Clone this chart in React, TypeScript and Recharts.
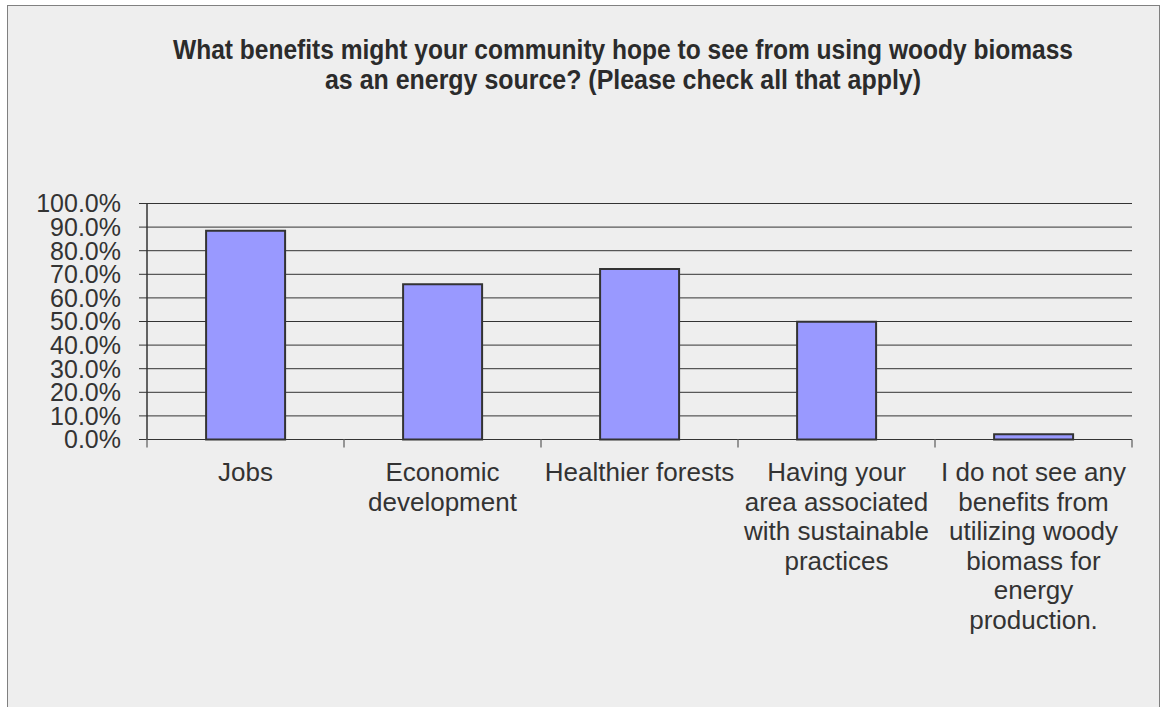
import React from 'react';
import { BarChart, Bar, XAxis, YAxis, CartesianGrid } from 'recharts';

// survey answers, share of respondents (%)
const categories = [
  'Jobs',
  'Economic development',
  'Healthier forests',
  'Having your area associated with sustainable practices',
  'I do not see any benefits from utilizing woody biomass for energy production.',
];
const responses = [88.5, 65.8, 72.2, 49.9, 2.2];
const yTicks = [0, 10, 20, 30, 40, 50, 60, 70, 80, 90, 100];

const titleLines = [
  'What benefits might your community hope to see from using woody biomass',
  'as an energy source? (Please check all that apply)',
];

const data = categories.map((name, i) => ({ name, value: responses[i] }));

const FONT = '"Liberation Sans", Arial, sans-serif';
const INK = '#333333';
const LABEL_SIZE = 26;

let ctx: CanvasRenderingContext2D | null = null;
function measure(s: string) {
  if (!ctx) ctx = document.createElement('canvas').getContext('2d');
  if (!ctx) return s.length * LABEL_SIZE * 0.5;
  ctx.font = `${LABEL_SIZE}px "Liberation Sans", Arial, sans-serif`;
  return ctx.measureText(s).width;
}

// simple greedy word wrap, like the spreadsheet does for axis labels
function wrap(label: string, maxWidth: number) {
  const lines: string[] = [];
  let cur = '';
  label.split(' ').forEach((w) => {
    const next = cur ? cur + ' ' + w : w;
    if (cur && measure(next) > maxWidth) {
      lines.push(cur);
      cur = w;
    } else {
      cur = next;
    }
  });
  if (cur) lines.push(cur);
  return lines;
}

// category label plus the small tick marks that sit between the categories
const CategoryTick = (props: any) => {
  const { x, y, payload, index, visibleTicksCount } = props;
  const half = payload && payload.offset ? payload.offset : 98.5;
  const last = index === visibleTicksCount - 1;
  const lines = wrap(String(payload.value), half * 2 - 3);
  return (
    <g>
      <line x1={x - half} x2={x - half} y1={y} y2={y + 8} stroke="#777" strokeWidth={1.5} />
      {last && <line x1={x + half} x2={x + half} y1={y} y2={y + 8} stroke="#777" strokeWidth={1.5} />}
      <text textAnchor="middle" fill={INK} fontSize={LABEL_SIZE} fontFamily={FONT}>
        {lines.map((l, i) => (
          <tspan key={i} x={x} y={y + 41.5 + i * 29.5}>
            {l}
          </tspan>
        ))}
      </text>
    </g>
  );
};

export default function App() {
  return (
    <div
      style={{
        position: 'absolute',
        left: 7,
        top: 5,
        width: 1153,
        height: 702,
        boxSizing: 'border-box',
        background: '#eeeeee',
        borderLeft: '1px solid #808080',
        borderTop: '1px solid #808080',
        borderRight: '1px solid #808080',
      }}
    >
      <svg width={1151} height={120} style={{ position: 'absolute', left: 0, top: 0 }}>
        <text
          x={615}
          y={53}
          textAnchor="middle"
          fontFamily={FONT}
          fontWeight={700}
          fontSize={27}
          fill="#2b2b2b"
          textLength={900}
          lengthAdjust="spacingAndGlyphs"
        >
          {titleLines[0]}
        </text>
        <text
          x={615}
          y={83}
          textAnchor="middle"
          fontFamily={FONT}
          fontWeight={700}
          fontSize={27}
          fill="#2b2b2b"
          textLength={596}
          lengthAdjust="spacingAndGlyphs"
        >
          {titleLines[1]}
        </text>
      </svg>
      <div style={{ position: 'absolute', left: 0, top: 0 }}>
        <BarChart
          width={1151}
          height={701}
          data={data}
          margin={{ top: 197.5, right: 27, left: 0, bottom: 67.5 }}
          barCategoryGap="30%"
        >
          <CartesianGrid vertical={false} stroke={INK} strokeWidth={1} />
          <XAxis
            dataKey="name"
            interval={0}
            height={200}
            tickLine={false}
            tickSize={0}
            tickMargin={0}
            axisLine={{ stroke: INK, strokeWidth: 1 }}
            tick={<CategoryTick />}
          />
          <YAxis
            width={139}
            domain={[0, 100]}
            ticks={yTicks}
            interval={0}
            tickSize={8}
            tickMargin={18}
            tickFormatter={(v: number) => `${v.toFixed(1)}%`}
            axisLine={{ stroke: INK, strokeWidth: 1.5 }}
            tickLine={{ stroke: INK }}
            tick={{ fill: INK, fontSize: 25, fontFamily: FONT }}
          />
          <Bar
            dataKey="value"
            fill="#9999ff"
            stroke="#333333"
            strokeWidth={2}
            isAnimationActive={false}
          />
        </BarChart>
      </div>
    </div>
  );
}
